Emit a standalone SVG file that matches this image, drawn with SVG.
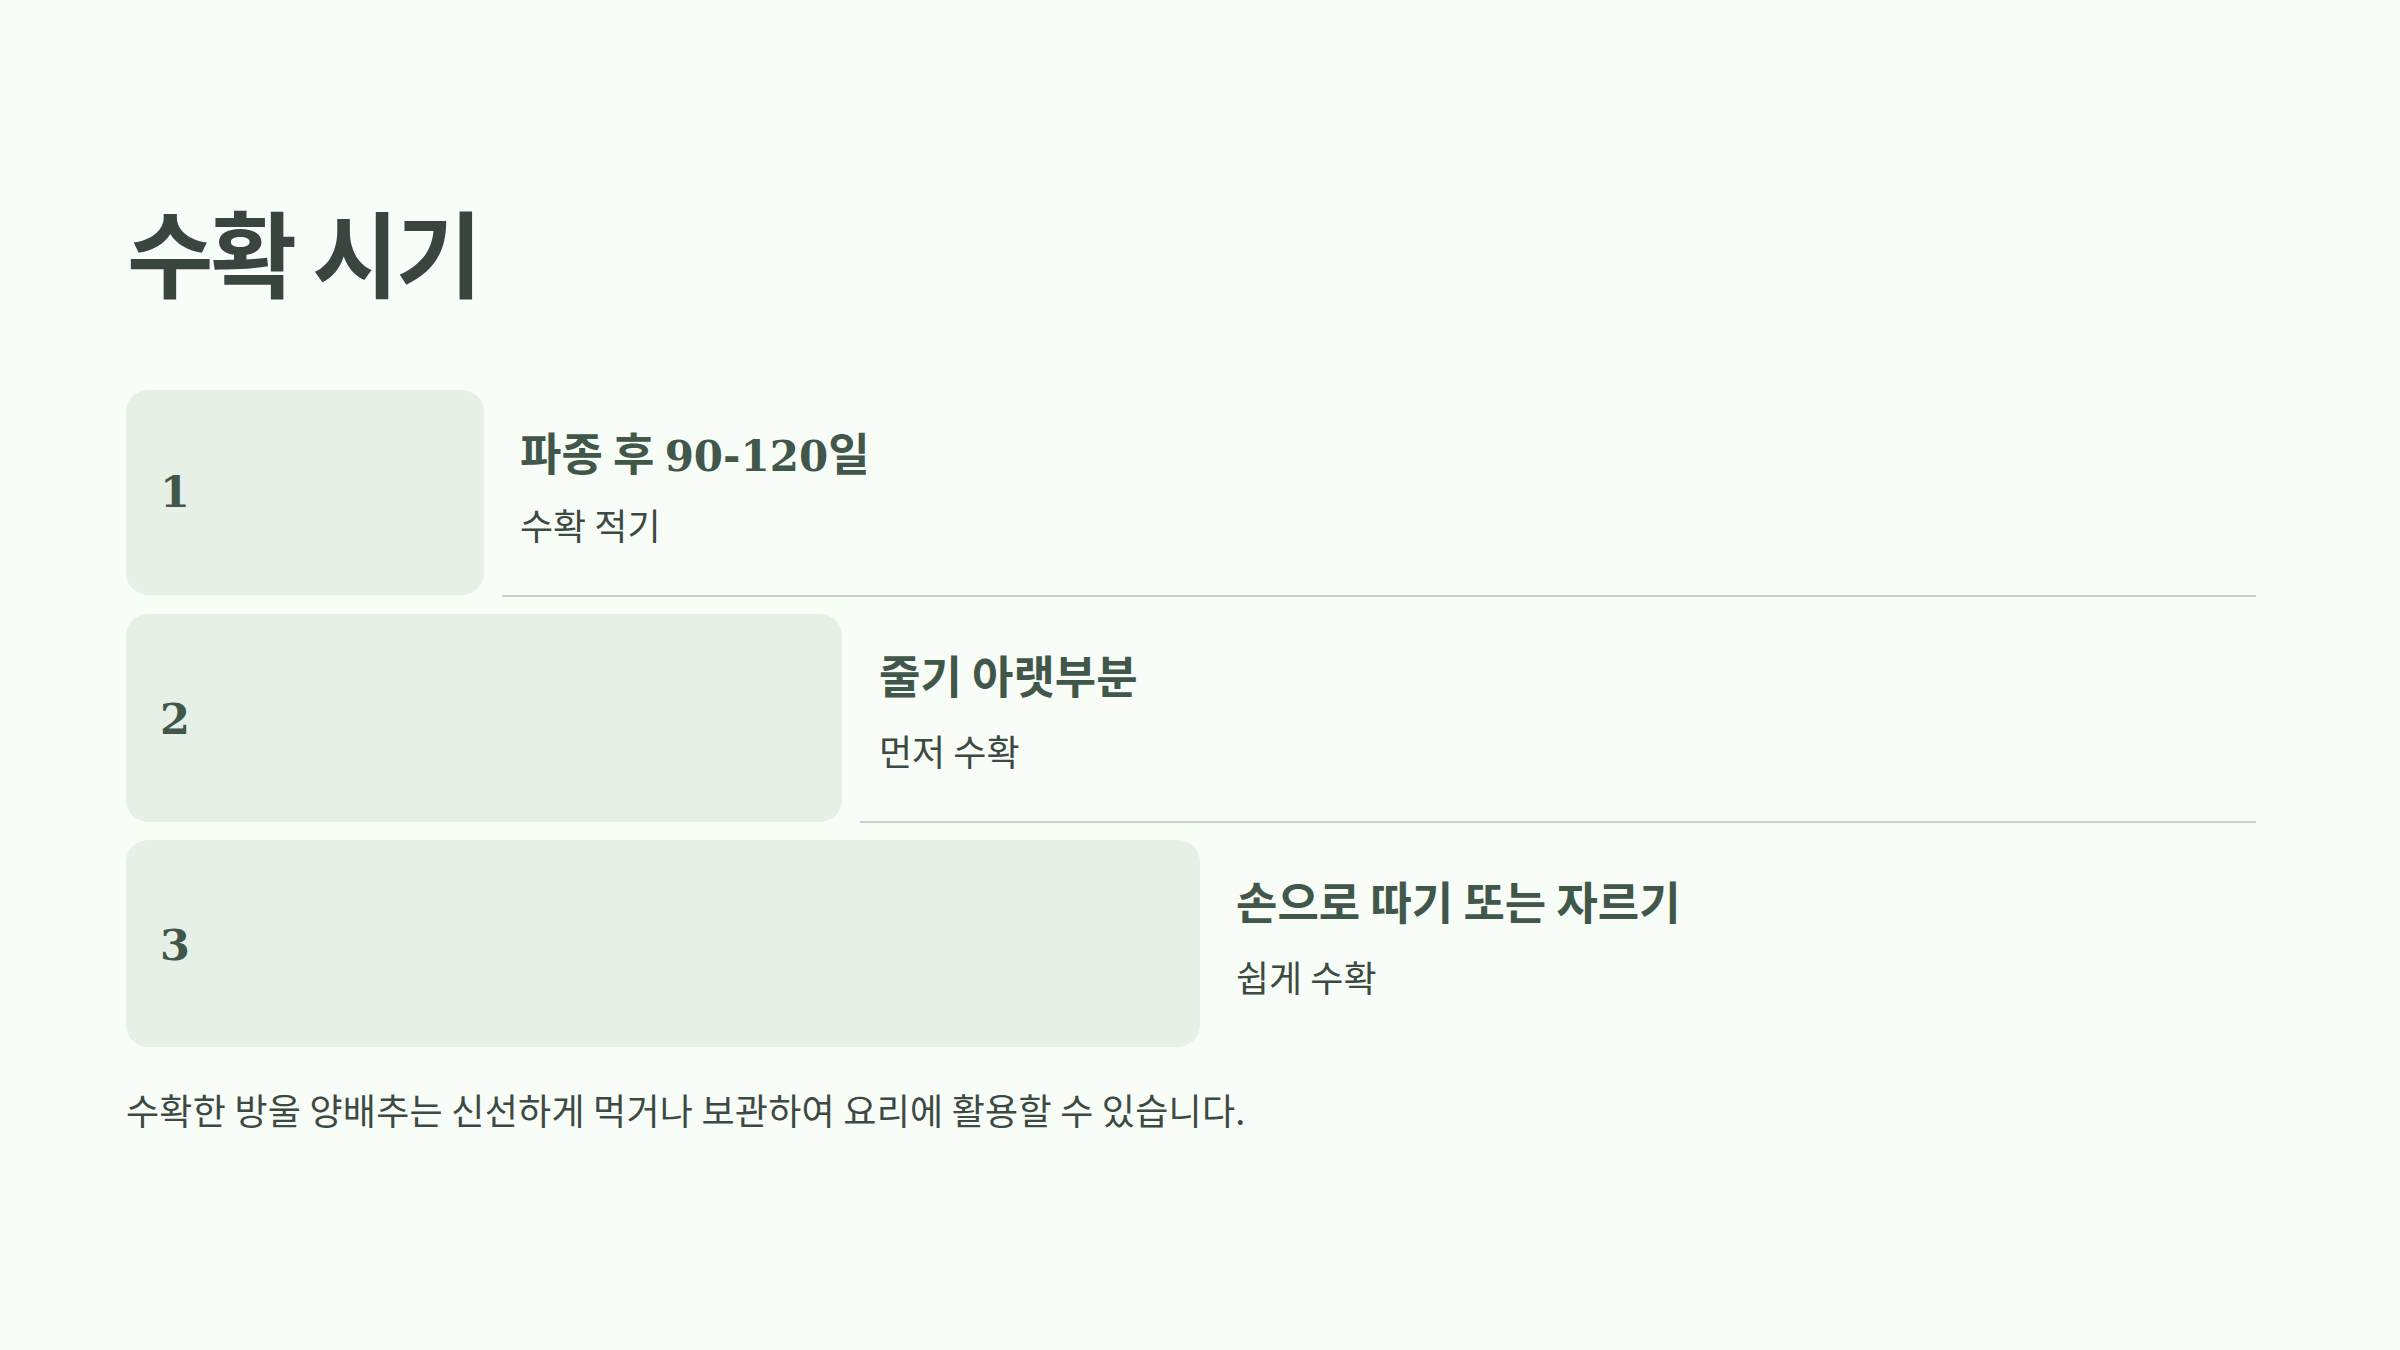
<svg xmlns="http://www.w3.org/2000/svg" width="2400" height="1350" viewBox="0 0 2400 1350">
  <style>
    .title { font-family: "Noto Sans CJK KR", "Noto Sans", sans-serif; font-weight: 700; font-size: 94px; fill: #3a4540; letter-spacing: -3px; }
    .box { fill: #e7f0e6; }
    .num { font-family: "DejaVu Serif", "Liberation Serif", serif; font-weight: 700; font-size: 43px; fill: #41574a; }
    .head { font-family: "Noto Sans CJK KR", "Noto Sans", sans-serif; font-weight: 700; font-size: 45px; fill: #41574a; }
    .digits { font-family: "DejaVu Serif", "Liberation Serif", serif; font-weight: 700; font-size: 42px; }
    .sub { font-family: "Noto Sans CJK KR", "Noto Sans", sans-serif; font-weight: 400; font-size: 36px; fill: #3d4a43; }
    .foot { letter-spacing: 0.25px; }
    .rule { stroke: #c8d2c9; stroke-width: 2; }
  </style>
  <rect x="0" y="0" width="2400" height="1350" fill="#f8fdf8"/>
  <g id="title">
    <text class="title" x="127" y="291">수확 시기</text>
  </g>
  <g id="connectors">
    <line class="rule" x1="502" y1="596" x2="2256" y2="596"/>
    <line class="rule" x1="860" y1="822" x2="2256" y2="822"/>
  </g>
  <g id="step1">
    <rect class="box" x="126" y="390" width="358" height="205" rx="22" ry="22"/>
    <text class="num" x="160" y="507">1</text>
    <text class="head" x="520" y="471">파종 후 <tspan class="digits">90-120</tspan>일</text>
    <text class="sub" x="520" y="540">수확 적기</text>
  </g>
  <g id="step2">
    <rect class="box" x="126" y="614" width="716" height="208" rx="22" ry="22"/>
    <text class="num" x="160" y="734">2</text>
    <text class="head" x="879" y="694">줄기 아랫부분</text>
    <text class="sub" x="879" y="766">먼저 수확</text>
  </g>
  <g id="step3">
    <rect class="box" x="126" y="840" width="1074" height="207" rx="22" ry="22"/>
    <text class="num" x="160" y="960">3</text>
    <text class="head" x="1236" y="920">손으로 따기 또는 자르기</text>
    <text class="sub" x="1236" y="992">쉽게 수확</text>
  </g>
  <g id="footer">
    <text class="sub foot" x="126" y="1125">수확한 방울 양배추는 신선하게 먹거나 보관하여 요리에 활용할 수 있습니다.</text>
  </g>
</svg>
